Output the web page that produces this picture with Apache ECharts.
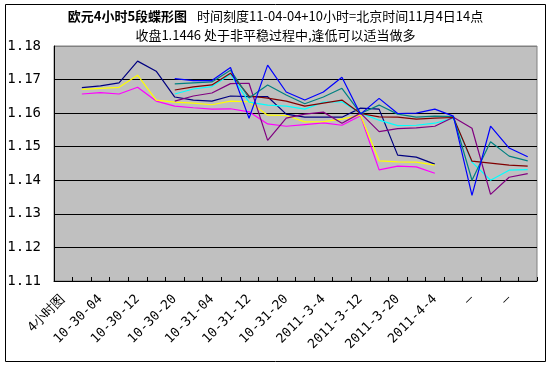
<!DOCTYPE html>
<html>
<head>
<meta charset="utf-8">
<script src="https://cdn.jsdelivr.net/npm/echarts@6/dist/echarts.min.js"></script>
<style>
html,body{margin:0;padding:0;background:#fff;}
#c{width:551px;height:366px;}
</style>
</head>
<body>
<div id="c"></div>
<script>
// tick labels (one every two categories)
const xLabels = ["4小时图","10-30-04","10-30-12","10-30-20","10-31-04","10-31-12","10-31-20","2011-3-4","2011-3-12","2011-3-20","2011-4-4","—","—"];
const categoryCount = 26;
const categories = Array.from({length: categoryCount}, (_, i) => String(i));

// series values (26 categories, null = no point)
const navy    = [null,1.1676,1.1681,1.1690,1.1755,1.1725,1.1648,1.1639,1.1636,1.1651,1.1649,1.1649,1.1597,1.1588,1.1588,1.1588,1.1615,1.1612,1.1475,1.1469,1.1448,null,null,null,null,null];
const magenta = [null,1.1657,1.1661,1.1657,1.1677,1.1636,1.1621,1.1616,1.1612,1.1613,1.1604,1.1568,1.1561,1.1566,1.1571,1.1564,1.1592,1.1431,1.1442,1.1440,1.1421,null,null,null,null,null];
const yellow  = [null,1.1671,1.1674,1.1677,1.1713,1.1639,1.1633,1.1630,1.1625,1.1636,1.1634,1.1594,1.1593,1.1574,1.1575,1.1582,1.1594,1.1458,1.1455,1.1454,1.1445,null,null,null,null,null];
const cyan    = [null,null,null,null,null,null,1.1657,1.1672,1.1679,1.1716,1.1633,1.1624,1.1621,1.1612,1.1633,1.1634,1.1600,1.1579,1.1563,1.1564,1.1570,1.1585,1.1454,1.1400,1.1430,1.1432];
const purple  = [null,null,null,null,null,null,1.1636,1.1651,1.1660,1.1688,1.1689,1.1519,1.1585,1.1597,1.1603,1.1570,1.1600,1.1545,1.1554,1.1556,1.1561,1.1588,1.1555,1.1358,1.1409,1.1420];
const darkred = [null,null,null,null,null,null,1.1669,1.1678,1.1684,1.1719,1.1651,1.1645,1.1636,1.1621,1.1630,1.1639,1.1599,1.1589,1.1588,1.1582,1.1585,1.1587,1.1457,1.1451,1.1445,1.1442];
const teal    = [null,null,null,null,null,null,1.1687,1.1690,1.1693,1.1728,1.1645,1.1684,1.1654,1.1628,1.1648,1.1674,1.1599,1.1624,1.1597,1.1588,1.1591,1.1590,1.1400,1.1515,1.1472,1.1458];
const blue    = [null,null,null,null,null,null,1.1703,1.1697,1.1697,1.1736,1.1585,1.1743,1.1663,1.1639,1.1663,1.1707,1.1597,1.1644,1.1599,1.1600,1.1612,1.1591,1.1355,1.1561,1.1496,1.1470];

const seriesDefs = [
  ["navy", navy, "#000080"],
  ["magenta", magenta, "#FF00FF"],
  ["yellow", yellow, "#FFFF00"],
  ["cyan", cyan, "#00FFFF"],
  ["purple", purple, "#800080"],
  ["darkred", darkred, "#800000"],
  ["teal", teal, "#008080"],
  ["blue", blue, "#0000FF"]
];

const mono = "'DejaVu Sans Mono', 'Liberation Mono', monospace";
const cjk = "'Noto Sans CJK SC', 'Noto Sans', sans-serif";

const chart = echarts.init(document.getElementById('c'), null, {renderer: 'canvas'});
chart.setOption({
  animation: false,
  backgroundColor: '#ffffff',
  title: {
    left: 'center',
    top: 2,
    text: '{b|欧元4小时5段蝶形图}  {n|时间刻度11-04-04+10小时=北京时间11月4日14点}\n{n|收盘1.1446 处于非平稳过程中,逢低可以适当做多}',
    textStyle: {
      fontWeight: 'normal',
      rich: {
        b: {fontFamily: cjk, fontSize: 13, fontWeight: 'bold', color: '#000', lineHeight: 19},
        n: {fontFamily: cjk, fontSize: 13, fontWeight: 'normal', color: '#000', lineHeight: 19}
      }
    }
  },
  graphic: [{
    type: 'rect',
    shape: {x: 5.5, y: 4.5, width: 540, height: 357},
    style: {fill: null, stroke: '#000', lineWidth: 1},
    silent: true,
    z: -1
  }],
  grid: {
    left: 54, right: 14, top: 46, bottom: 85,
    show: true, backgroundColor: '#C0C0C0', borderColor: '#808080', borderWidth: 1
  },
  xAxis: {
    type: 'category',
    data: categories,
    boundaryGap: true,
    axisLine: {show: true, lineStyle: {color: '#000', width: 1}},
    axisTick: {show: true, inside: true, length: 4, interval: 0, lineStyle: {color: '#000'}},
    axisLabel: {
      interval: 1, rotate: 45, margin: 16,
      fontFamily: mono, fontSize: 13, color: '#000',
      formatter: (v) => { const i = +v; return i % 2 === 0 ? xLabels[i / 2] : ''; }
    },
    splitLine: {show: false}
  },
  yAxis: {
    type: 'value',
    min: 1.11, max: 1.18, interval: 0.01,
    axisLine: {show: true, lineStyle: {color: '#000', width: 1}},
    axisTick: {show: false},
    axisLabel: {
      margin: 13, fontFamily: mono, fontSize: 14, color: '#000',
      formatter: (v) => v.toFixed(2)
    },
    splitLine: {show: true, lineStyle: {color: ['#000','#000','#000','#000','#000','#000','#000','#808080'], width: 1}}
  },
  series: seriesDefs.map(([name, data, color]) => ({
    name, type: 'line', data,
    symbol: 'none', connectNulls: false,
    lineStyle: {color, width: 1.2},
    itemStyle: {color}
  }))
});
</script>
</body>
</html>
